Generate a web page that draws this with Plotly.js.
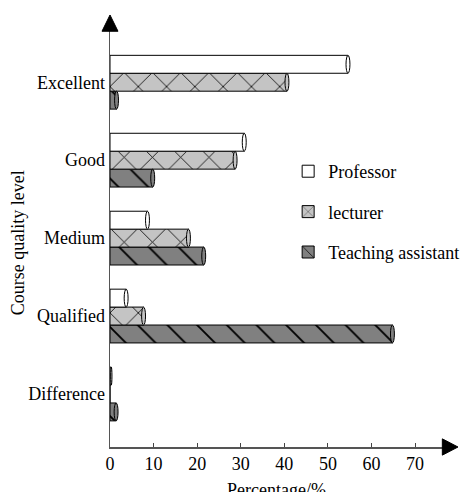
<!DOCTYPE html>
<html>
<head>
<meta charset="utf-8">
<script src="https://cdn.plot.ly/plotly-3.0.1.min.js"></script>
<style>html,body{margin:0;padding:0;background:#fff;}#chart{width:466px;height:492px;}</style>
</head>
<body>
<div id="chart"></div>
<script>
// Categories (bottom to top)
const categories = ["Difference", "Qualified", "Medium", "Good", "Excellent"];
// Series values (percentage)
const professor = [0.3, 3.7, 8.6, 30.8, 54.6];
const lecturer = [0, 7.7, 18, 28.7, 40.6];
const teachingAssistant = [1.4, 64.8, 21.5, 9.8, 1.5];
const seriesNames = ["Teaching assistant", "lecturer", "Professor"];
const xTicks = [0, 10, 20, 30, 40, 50, 60, 70];
const xTitle = "Percentage/%";
const yTitle = "Course quality level";

const FONT = "Liberation Serif";
const FS = 18;
const styles = [
  {bg: "#808080", fg: "#000000", shape: "\\", size: 21, sol: 0.09},
  {bg: "#c4c4c4", fg: "#000000", shape: "x", size: 20, sol: 0.08},
  {bg: "#ffffff", fg: "#ffffff", shape: "", size: 8, sol: 0.1}
];
const seriesData = [teachingAssistant, lecturer, professor];
const bargap = 0.31;
const w = (1 - bargap) / 3;

const traces = seriesData.map((vals, i) => ({
  type: "bar",
  orientation: "h",
  name: seriesNames[i],
  y: categories,
  x: vals,
  legendgroup: "g" + i,
  legendrank: 3 - i,
  marker: {
    color: styles[i].bg,
    line: {color: "#000", width: 1},
    pattern: {shape: styles[i].shape, fgcolor: styles[i].fg, bgcolor: styles[i].bg, size: styles[i].size, solidity: styles[i].sol}
  },
  hoverinfo: "x+name"
}));

// cylinder end caps built from data
const shapes = [];
seriesData.forEach((vals, i) => {
  vals.forEach((v, j) => {
    if (v <= 0) return;
    const yc = j + (i - 1) * w;
    const cw = Math.min(0.9, v);
    shapes.push({type: "circle", xref: "x", yref: "y", x0: v - cw / 2, x1: v + cw / 2,
      y0: yc - w / 2, y1: yc + w / 2, fillcolor: styles[i].bg, line: {color: "#000", width: 1}, layer: "above"});
  });
});
// axis arrowheads
shapes.push({type: "path", xref: "paper", yref: "paper", path: "M 0 1.036 L -0.024 0.997 L 0.024 0.997 Z", fillcolor: "#000", line: {color: "#000", width: 1}});
shapes.push({type: "path", xref: "paper", yref: "paper", path: "M 1.045 0 L 0.998 0.0195 L 0.998 -0.0195 Z", fillcolor: "#000", line: {color: "#000", width: 1}});

const layout = {
  width: 466, height: 492,
  margin: {l: 110, r: 23, t: 30, b: 45, autoexpand: false},
  paper_bgcolor: "#fff", plot_bgcolor: "#fff",
  font: {family: FONT, size: FS, color: "#000"},
  barmode: "group", bargap: bargap, bargroupgap: 0,
  showlegend: true,
  legend: {x: 0.535, y: 0.705, xanchor: "left", yanchor: "top", traceorder: "grouped", tracegroupgap: 14,
    font: {family: FONT, size: FS, color: "#000"}, bgcolor: "rgba(0,0,0,0)"},
  xaxis: {range: [0, 76.4], tickvals: xTicks, ticks: "inside", ticklen: 4, tickcolor: "#444",
    showline: true, linecolor: "#555", linewidth: 1.5, showgrid: false, zeroline: false, automargin: false,
    tickfont: {family: FONT, size: FS}, fixedrange: true},
  yaxis: {type: "category", range: [-0.68, 4.67], showline: true, linecolor: "#555", linewidth: 1.5, automargin: false,
    ticks: "", showgrid: false, zeroline: false, tickfont: {family: FONT, size: FS}, fixedrange: true},
  annotations: [
    {text: xTitle, xref: "paper", yref: "paper", x: 0.5, y: -0.074, xanchor: "center", yanchor: "top",
      showarrow: false, font: {family: FONT, size: FS, color: "#000"}},
    {text: yTitle, xref: "paper", yref: "paper", x: -0.276, y: 0.489, xanchor: "center", yanchor: "middle",
      textangle: -90, showarrow: false, font: {family: FONT, size: FS, color: "#000"}}
  ],
  shapes: shapes
};

Plotly.newPlot("chart", traces, layout, {displayModeBar: false, staticPlot: true});
</script>
</body>
</html>
